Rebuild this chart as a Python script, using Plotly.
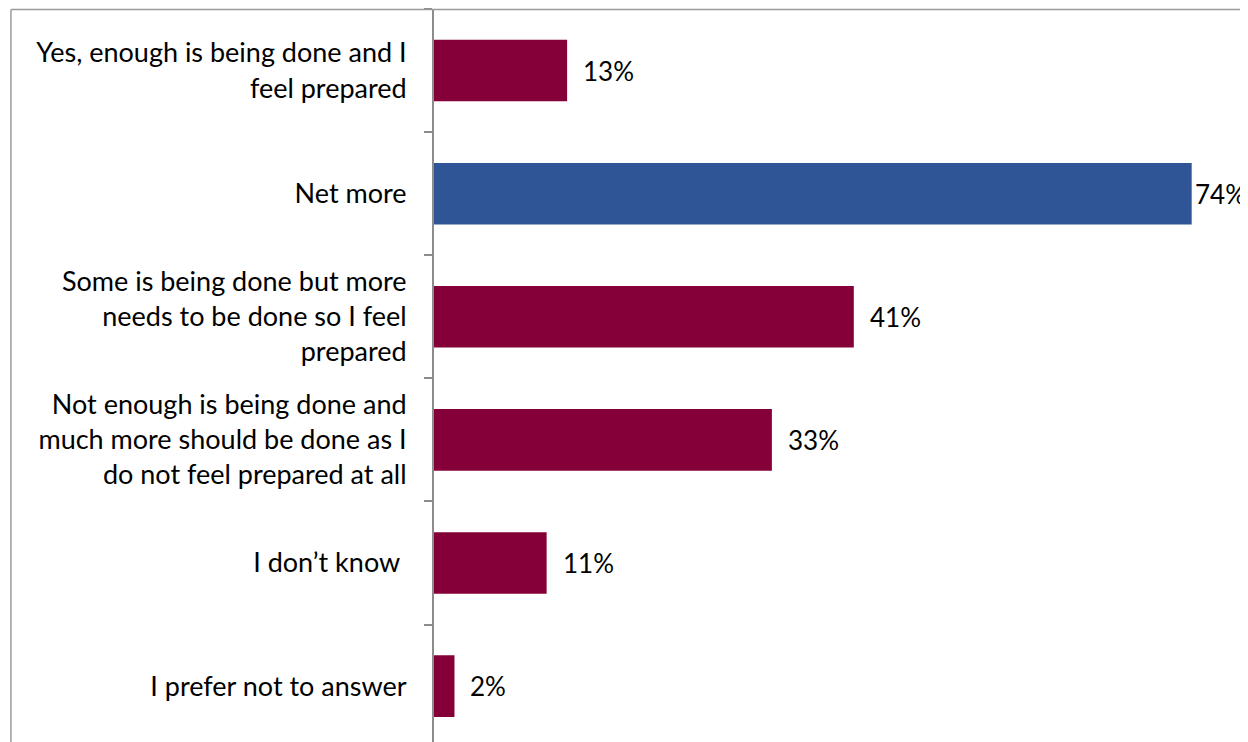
import plotly.graph_objects as go

categories = [
    "Yes, enough is being done and I<br>feel prepared",
    "Net more",
    "Some is being done but more<br>needs to be done so I feel<br>prepared",
    "Not enough is being done and<br>much more should be done as I<br>do not feel prepared at all",
    "I don\u2019t know ",
    "I prefer not to answer",
]
values = [13, 74, 41, 33, 11, 2]
value_labels = ["13%", "74%", "41%", "33%", "11%", "2%"]
is_net = [False, True, False, False, False, False]

MAROON = "#850038"
BLUE = "#2F5597"
FONT = "Lato"
FS = 27
FS_VAL = 26

colors = [BLUE if n else MAROON for n in is_net]

fig = go.Figure(
    go.Bar(
        x=values,
        y=categories,
        orientation="h",
        marker=dict(color=colors, line=dict(width=0)),
        width=0.5,
        hoverinfo="skip",
    )
)

for cat, v, lab in zip(categories, values, value_labels):
    fig.add_annotation(
        x=v, y=cat, text=lab, showarrow=False,
        xanchor="left", yanchor="middle",
        xshift=1 if v > 70 else 14,
        font=dict(family=FONT, size=FS_VAL, color="#000000"),
    )

fig.update_layout(
    width=1240, height=734,
    margin=dict(l=426, r=0, t=1, b=0),
    paper_bgcolor="white", plot_bgcolor="white",
    showlegend=False,
    font=dict(family=FONT, size=FS, color="#000000"),
)
fig.update_xaxes(range=[0, 79.5], visible=False, showgrid=False, zeroline=False)
fig.update_yaxes(
    type="category",
    categoryorder="array", categoryarray=categories,
    range=[5.454, -0.5],
    showline=True, linecolor="#8C8C8C", linewidth=2,
    ticks="outside", ticklen=8, tickwidth=1.5, tickcolor="#8C8C8C",
    tickson="boundaries",
    ticklabelstandoff=20,
    showgrid=False, zeroline=False,
    tickfont=dict(family=FONT, size=FS, color="#000000"),
)

# chart-area border (top and left edges visible)
fig.add_shape(type="line", xref="paper", yref="paper",
              x0=-0.5197, x1=1.01, y0=0.9993, y1=0.9993,
              line=dict(color="#9A9A9A", width=1.5))
fig.add_shape(type="line", xref="paper", yref="paper",
              x0=-0.5197, x1=-0.5197, y0=0.9993, y1=-0.02,
              line=dict(color="#9A9A9A", width=1.5))

fig.write_html("out.html")
